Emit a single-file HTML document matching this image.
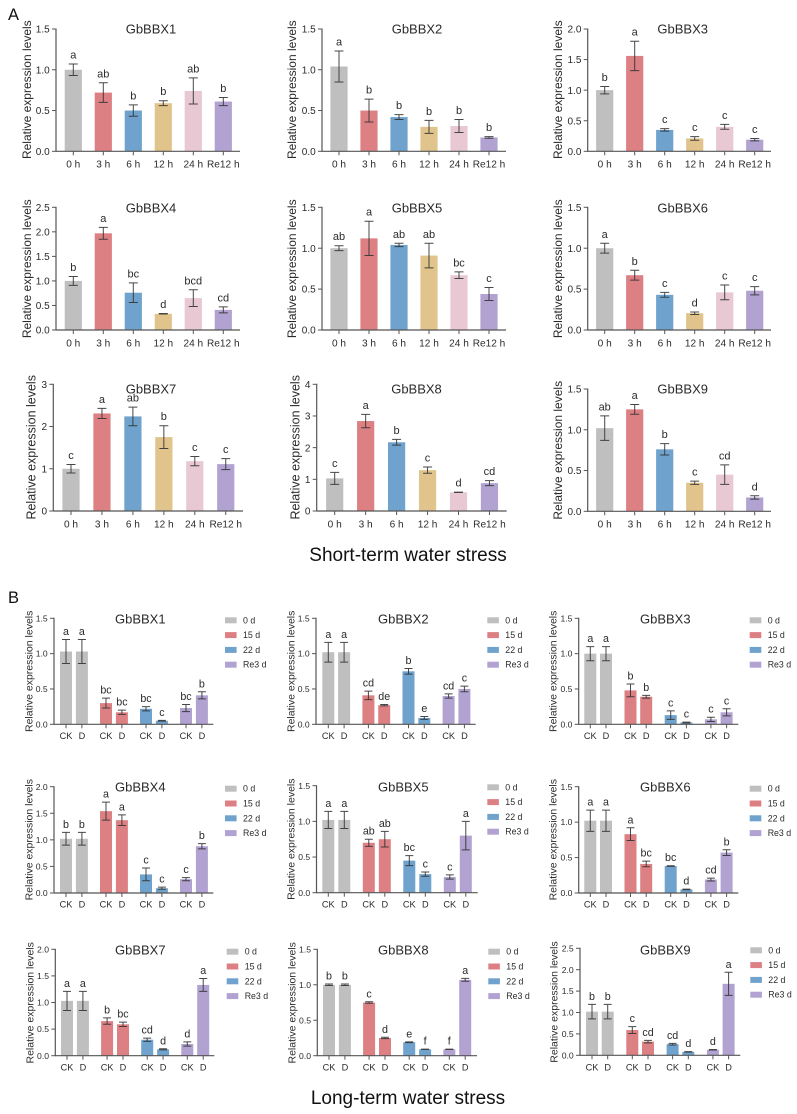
<!DOCTYPE html>
<html lang="en">
<head>
<meta charset="utf-8">
<title>GbBBX relative expression under water stress</title>
<style>
html,body{margin:0;padding:0;background:#fff;}
body{width:797px;height:1114px;overflow:hidden;}
#figure{display:block;filter:blur(0.3px);}
#figure text{font-family:"Liberation Sans",Arial,sans-serif;fill:#2b2b2b;}
</style>
</head>
<body>
<svg id="figure" xmlns="http://www.w3.org/2000/svg" width="797" height="1114" viewBox="0 0 797 1114">
  <rect width="797" height="1114" fill="#ffffff"/>
  <text x="8" y="20" font-size="16.5" style="fill:#111">A</text>
  <text x="8" y="603" font-size="16.5" style="fill:#111">B</text>
  <text x="408" y="561" font-size="19" text-anchor="middle" style="fill:#111">Short-term water stress</text>
  <text x="408" y="1104" font-size="19" text-anchor="middle" style="fill:#111">Long-term water stress</text>
  <g id="charts"></g>
</svg>
<script>
// ---- categories and tick labels ----
const shortCategories = ['0 h','3 h','6 h','12 h','24 h','Re12 h'];
const longCategories = ['CK','D','CK','D','CK','D','CK','D'];
const longGroups = ['0 d','15 d','22 d','Re3 d'];
const ticks15 = ['0.0','0.5','1.0','1.5'];
const ticks20 = ['0.0','0.5','1.0','1.5','2.0'];
const ticks25 = ['0.0','0.5','1.0','1.5','2.0','2.5'];
const ticks3 = ['0','1','2','3'];
const ticks4 = ['0','1','2','3','4'];

// ---- short-term series ----
const a1Values = [1.00,0.72,0.50,0.59,0.74,0.61];
const a1Errors = [0.07,0.12,0.07,0.03,0.16,0.05];
const a1Letters = ['a','ab','b','b','ab','b'];
const a2Values = [1.04,0.50,0.42,0.30,0.31,0.17];
const a2Errors = [0.19,0.14,0.03,0.08,0.08,0.01];
const a2Letters = ['a','b','b','b','b','b'];
const a3Values = [1.00,1.56,0.35,0.21,0.40,0.19];
const a3Errors = [0.06,0.24,0.02,0.03,0.04,0.02];
const a3Letters = ['b','a','c','c','c','c'];
const a4Values = [1.00,1.97,0.76,0.33,0.65,0.41];
const a4Errors = [0.09,0.12,0.20,0.005,0.17,0.06];
const a4Letters = ['b','a','bc','d','bcd','cd'];
const a5Values = [1.00,1.12,1.04,0.91,0.67,0.44];
const a5Errors = [0.03,0.21,0.02,0.15,0.04,0.08];
const a5Letters = ['ab','a','ab','ab','bc','c'];
const a6Values = [1.00,0.67,0.43,0.205,0.46,0.48];
const a6Errors = [0.06,0.06,0.03,0.015,0.09,0.05];
const a6Letters = ['a','b','c','d','c','c'];
const a7Values = [1.00,2.31,2.24,1.75,1.18,1.11];
const a7Errors = [0.10,0.12,0.22,0.27,0.11,0.13];
const a7Letters = ['c','a','ab','b','c','c'];
const a8Values = [1.03,2.84,2.17,1.29,0.59,0.88];
const a8Errors = [0.19,0.21,0.09,0.10,0.005,0.08];
const a8Letters = ['c','a','b','c','d','cd'];
const a9Values = [1.02,1.25,0.76,0.35,0.45,0.17];
const a9Errors = [0.15,0.06,0.07,0.02,0.12,0.02];
const a9Letters = ['ab','a','b','c','cd','d'];

// ---- long-term series ----
const b1Values = [1.03,1.03,0.30,0.17,0.22,0.05,0.23,0.41];
const b1Errors = [0.17,0.17,0.07,0.03,0.03,0.005,0.05,0.05];
const b1Letters = ['a','a','bc','bc','bc','c','bc','b'];
const b2Values = [1.02,1.02,0.41,0.27,0.75,0.09,0.40,0.50];
const b2Errors = [0.14,0.14,0.06,0.01,0.04,0.02,0.03,0.04];
const b2Letters = ['a','a','cd','de','b','e','cd','c'];
const b3Values = [1.00,1.00,0.48,0.39,0.13,0.025,0.07,0.17];
const b3Errors = [0.10,0.10,0.09,0.02,0.06,0.005,0.03,0.05];
const b3Letters = ['a','a','b','b','c','c','c','c'];
const b4Values = [1.02,1.02,1.54,1.37,0.35,0.09,0.26,0.88];
const b4Errors = [0.12,0.12,0.17,0.10,0.12,0.02,0.03,0.05];
const b4Letters = ['b','b','a','a','c','c','c','b'];
const b5Values = [1.02,1.02,0.70,0.75,0.45,0.26,0.22,0.80];
const b5Errors = [0.12,0.12,0.05,0.11,0.07,0.03,0.03,0.20];
const b5Letters = ['a','a','ab','ab','bc','c','c','a'];
const b6Values = [1.02,1.02,0.83,0.41,0.38,0.05,0.19,0.57];
const b6Errors = [0.15,0.15,0.09,0.04,0.005,0.005,0.02,0.04];
const b6Letters = ['a','a','a','bc','bc','d','cd','b'];
const b7Values = [1.03,1.03,0.65,0.59,0.30,0.12,0.22,1.33];
const b7Errors = [0.18,0.18,0.06,0.04,0.03,0.01,0.04,0.12];
const b7Letters = ['a','a','b','bc','cd','d','d','a'];
const b8Values = [1.00,1.00,0.75,0.25,0.19,0.09,0.09,1.07];
const b8Errors = [0.01,0.01,0.01,0.01,0.005,0.002,0.002,0.02];
const b8Letters = ['b','b','c','d','e','f','f','a'];
const b9Values = [1.02,1.02,0.59,0.32,0.26,0.08,0.13,1.67];
const b9Errors = [0.17,0.17,0.08,0.03,0.02,0.005,0.005,0.27];
const b9Letters = ['b','b','c','cd','cd','d','d','a'];

// ---- palette ----
const shortColors = ['#bfbfbf','#dd8084','#6fa2cd','#e0c48b','#e8c8d2','#b1a2d2'];
const longColors = ['#bfbfbf','#dd8084','#6fa2cd','#b1a2d2'];

// ---- chart frames (geometry only) ----
const SVGNS = 'http://www.w3.org/2000/svg';
const root = document.getElementById('charts');

function mk(parent, tag, attrs, text) {
  const el = document.createElementNS(SVGNS, tag);
  for (const k in attrs) el.setAttribute(k, attrs[k]);
  if (text !== undefined) el.textContent = text;
  parent.appendChild(el);
  return el;
}

function drawShort(f) {
  drawFrame(f, f.values, f.errors, f.letters, shortCategories, function (i) { return f.first + f.step * i; },
    function (i) { return shortColors[i]; }, 8.6, 4.5, 5.5, {tick: 10, cat: 10.1, label: f.labelSize || 12, letter: 11});
}

function drawLong(f) {
  drawFrame(f, f.values, f.errors, f.letters, longCategories, function (i) {
    return f.first + f.step * Math.floor(i / 2) + f.inner * (i % 2);
  }, function (i) { return longColors[Math.floor(i / 2)]; }, 6, 4, 4.5, {tick: 8.6, cat: 9.2, label: 10.5, letter: 10.7});
  const legend = mk(root, 'g', {});
  
  
  longGroups.forEach(function (g, i) {
    const cy = f.legendY + i * 14.8;
    const sw = mk(legend, 'rect', {x: f.legendX, y: cy - 3, width: 11.6, height: 6, fill: longColors[i]});
    
    
    const lt = mk(legend, 'text', {x: f.legendX + 18, y: cy + 3, 'font-size': 8.8}, g);
    
    
  });
}

function drawFrame(f, values, errors, letters, cats, xScale, colorAt, halfBar, cap, letterGap, fs) {
  const g = mk(root, 'g', {});
  
  
  const yMax = parseFloat(f.ticks[f.ticks.length - 1]);
  const yScale = function (v) { return f.base - (v / yMax) * (f.base - f.top); };

  const title = mk(g, 'text', {x: f.titleX, y: f.titleY + 4.6, 'font-size': 13, 'text-anchor': 'middle'}, f.title);
  
  

  const yl = mk(g, 'text', {
    x: 0, y: 0, 'font-size': fs.label, 'text-anchor': 'middle',
    transform: 'translate(' + (f.labelX + fs.label * 0.35) + ',' + f.labelY + ') rotate(-90)'
  }, 'Relative expression levels');
  
  

  values.forEach(function (v, i) {
    const x = xScale(i);
    const bar = mk(g, 'rect', {x: x - halfBar, y: yScale(v), width: halfBar * 2, height: f.base - yScale(v), fill: colorAt(i)});
    
    

    const e = errors[i];
    const err = mk(g, 'path', {
      d: 'M' + x + ' ' + yScale(v + e) + 'V' + yScale(v - e) +
         'M' + (x - cap) + ' ' + yScale(v + e) + 'H' + (x + cap) +
         'M' + (x - cap) + ' ' + yScale(v - e) + 'H' + (x + cap),
      stroke: '#333333', 'stroke-width': 1, fill: 'none', 'stroke-opacity': 0.9
    });
    
    

    const sig = mk(g, 'text', {x: x, y: yScale(v + e) - letterGap, 'font-size': fs.letter, 'text-anchor': 'middle'}, letters[i]);
    
    

    const tk = mk(g, 'line', {x1: x, x2: x, y1: f.base, y2: f.base + 4, stroke: '#555555', 'stroke-width': 1});
    
    

    const cl = mk(g, 'text', {x: x, y: f.tickY + fs.cat * 0.36, 'font-size': fs.cat, 'text-anchor': 'middle'}, cats[i]);
    
    
  });

  f.ticks.forEach(function (t) {
    const y = yScale(parseFloat(t));
    const tk = mk(g, 'line', {x1: f.ax - 4, x2: f.ax, y1: y, y2: y, stroke: '#555555', 'stroke-width': 1});
    
    
    const tl = mk(g, 'text', {x: f.ax - 6.3, y: y + fs.tick * 0.36, 'font-size': fs.tick, 'text-anchor': 'end'}, t);
    
    
  });

  const yAxis = mk(g, 'line', {x1: f.ax, x2: f.ax, y1: f.top - 0.5, y2: f.base + 0.5, stroke: '#555555', 'stroke-width': 1.2});
  
  
  const xAxis = mk(g, 'line', {x1: f.ax, x2: f.xEnd, y1: f.base, y2: f.base, stroke: '#555555', 'stroke-width': 1.2});
  
  
}

// Short-term frames
drawShort({title:'GbBBX1',values:a1Values,errors:a1Errors,letters:a1Letters,ticks:ticks15,ax:56,top:29,base:151.3,xEnd:240,first:73.3,step:30,titleX:151,titleY:29,labelX:27,labelY:89.7,tickY:164});
drawShort({title:'GbBBX2',values:a2Values,errors:a2Errors,letters:a2Letters,ticks:ticks15,ax:322,top:29,base:151.3,xEnd:506,first:339,step:30,titleX:417,titleY:29,labelX:292,labelY:89.7,tickY:164});
drawShort({title:'GbBBX3',values:a3Values,errors:a3Errors,letters:a3Letters,ticks:ticks20,ax:587.7,top:29,base:151.3,xEnd:771,first:604.7,step:30,titleX:682.7,titleY:29,labelX:558,labelY:89.7,tickY:164});
drawShort({title:'GbBBX4',values:a4Values,errors:a4Errors,letters:a4Letters,ticks:ticks25,ax:56,top:207.3,base:330,xEnd:240,first:73.3,step:30,titleX:151,titleY:208,labelX:27,labelY:268.8,tickY:342.7});
drawShort({title:'GbBBX5',values:a5Values,errors:a5Errors,letters:a5Letters,ticks:ticks15,ax:322,top:207.3,base:330,xEnd:506,first:339,step:30,titleX:417,titleY:208,labelX:292,labelY:268.8,tickY:342.7});
drawShort({title:'GbBBX6',values:a6Values,errors:a6Errors,letters:a6Letters,ticks:ticks15,ax:587.7,top:207.3,base:330,xEnd:771,first:604.7,step:30,titleX:682.7,titleY:208,labelX:558,labelY:268.8,tickY:342.7});
drawShort({title:'GbBBX7',values:a7Values,errors:a7Errors,letters:a7Letters,ticks:ticks3,ax:53.3,top:384.3,base:511,xEnd:243,first:71,step:30.95,titleX:151,titleY:389,labelX:31,labelY:447.3,labelSize:12.5,tickY:524});
drawShort({title:'GbBBX8',values:a8Values,errors:a8Errors,letters:a8Letters,ticks:ticks4,ax:316.7,top:384.3,base:511,xEnd:506.7,first:334.7,step:30.95,titleX:416.5,titleY:389,labelX:295,labelY:447.3,labelSize:12.5,tickY:524});
drawShort({title:'GbBBX9',values:a9Values,errors:a9Errors,letters:a9Letters,ticks:ticks15,ax:587.7,top:389,base:511.3,xEnd:771,first:604.7,step:30,titleX:682.7,titleY:389,labelX:558,labelY:450.3,tickY:524});

// Long-term frames
drawLong({title:'GbBBX1',values:b1Values,errors:b1Errors,letters:b1Letters,ticks:ticks15,ax:54,top:618.3,base:724.3,xEnd:213.3,first:66,step:40,inner:15.9,titleX:140.3,titleY:618.7,labelX:29,labelY:671.3,tickY:735.7,legendX:225,legendY:620.3});
drawLong({title:'GbBBX2',values:b2Values,errors:b2Errors,letters:b2Letters,ticks:ticks15,ax:316,top:618.3,base:724.3,xEnd:475.7,first:328.3,step:40.1,inner:15.8,titleX:403.3,titleY:618.7,labelX:291,labelY:671.3,tickY:735.7,legendX:487.3,legendY:620.3});
drawLong({title:'GbBBX3',values:b3Values,errors:b3Errors,letters:b3Letters,ticks:ticks15,ax:578.7,top:618.3,base:724.3,xEnd:738.3,first:590.3,step:40.2,inner:15.7,titleX:665.3,titleY:618.7,labelX:553,labelY:671.3,tickY:735.7,legendX:749.7,legendY:620.3});
drawLong({title:'GbBBX4',values:b4Values,errors:b4Errors,letters:b4Letters,ticks:ticks20,ax:54,top:786.7,base:893,xEnd:213.3,first:66,step:40,inner:15.9,titleX:140.3,titleY:787,labelX:29,labelY:839.7,tickY:904.3,legendX:225,legendY:788.7});
drawLong({title:'GbBBX5',values:b5Values,errors:b5Errors,letters:b5Letters,ticks:ticks15,ax:316.5,top:785.7,base:892.7,xEnd:477.7,first:328.3,step:40.5,inner:16,titleX:403.3,titleY:787,labelX:291,labelY:839.2,tickY:904.3,legendX:487.3,legendY:787.3});
drawLong({title:'GbBBX6',values:b6Values,errors:b6Errors,letters:b6Letters,ticks:ticks15,ax:578.7,top:786.7,base:893,xEnd:738.3,first:590.3,step:40.2,inner:15.7,titleX:665.3,titleY:787,labelX:553,labelY:839.7,tickY:904.3,legendX:749.7,legendY:788.7});
drawLong({title:'GbBBX7',values:b7Values,errors:b7Errors,letters:b7Letters,ticks:ticks20,ax:55.3,top:949.3,base:1055.7,xEnd:214.3,first:67,step:40.1,inner:15.9,titleX:140.3,titleY:950,labelX:30,labelY:1002.8,tickY:1067,legendX:226.7,legendY:951.7});
drawLong({title:'GbBBX8',values:b8Values,errors:b8Errors,letters:b8Letters,ticks:ticks15,ax:317.3,top:949.3,base:1055.7,xEnd:477,first:329,step:40.1,inner:15.9,titleX:403.3,titleY:950,labelX:291.7,labelY:1002.8,tickY:1067,legendX:488.3,legendY:951.7});
drawLong({title:'GbBBX9',values:b9Values,errors:b9Errors,letters:b9Letters,ticks:ticks25,ax:580,top:948.3,base:1055.3,xEnd:740.3,first:592,step:40.3,inner:15.7,titleX:665.3,titleY:950,labelX:554,labelY:1002,tickY:1067,legendX:750.3,legendY:950.3});
</script>
</body>
</html>
